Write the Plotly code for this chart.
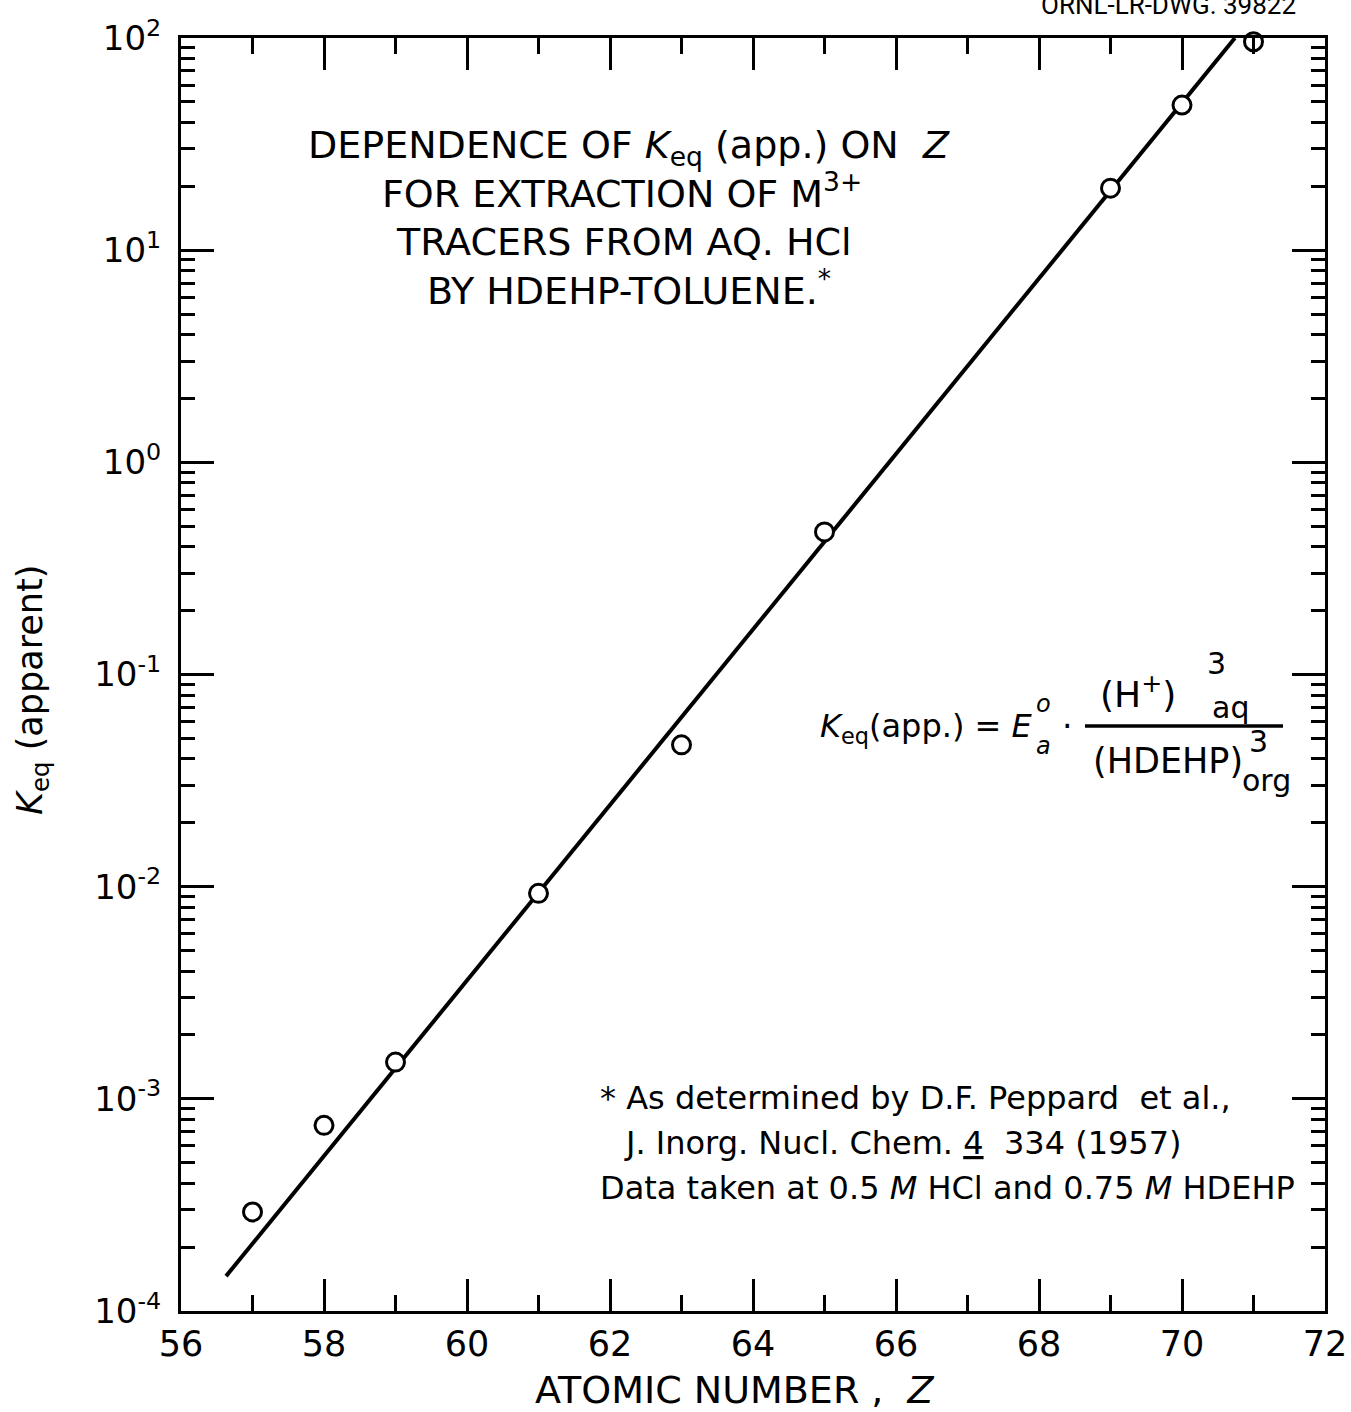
import plotly.graph_objects as go

# ---- data ----
atomic_number = [57, 58, 59, 61, 63, 65, 69, 70, 71]
keq_apparent = [2.93e-4, 7.5e-4, 1.49e-3, 9.3e-3, 0.0466, 0.47, 19.6, 48.3, 96.0]

fit_z = [56.63, 70.74]
fit_keq = [1.46e-4, 100.0]

x_major_ticks = [56, 58, 60, 62, 64, 66, 68, 70, 72]
x_minor_ticks = [57, 59, 61, 63, 65, 67, 69, 71]
y_major_ticks = [1e-4, 1e-3, 1e-2, 1e-1, 1e0, 1e1, 1e2]
y_tick_text = ["10<sup>-4</sup>", "10<sup>-3</sup>", "10<sup>-2</sup>", "10<sup>-1</sup>",
               "10<sup>0</sup>", "10<sup>1</sup>", "10<sup>2</sup>"]
y_minor_ticks = [m * 10.0 ** e for e in range(-4, 2) for m in range(2, 10)]

FONT = "DejaVu Sans"
W, H = 1351, 1412
L, R, T, B = 181, 26, 38, 101
PW, PH = W - L - R, H - T - B


def px(x):
    return (x - L) / PW


def py(y):
    return (H - B - y) / PH


fig = go.Figure()
fig.add_trace(go.Scatter(
    x=fit_z, y=fit_keq, mode="lines",
    line=dict(color="black", width=4), showlegend=False, hoverinfo="skip"))
fig.add_trace(go.Scatter(
    x=atomic_number, y=keq_apparent, mode="markers",
    marker=dict(symbol="circle", size=18, color="white",
                line=dict(color="black", width=3)),
    cliponaxis=False, showlegend=False))

axis_common = dict(showline=True, linecolor="black", linewidth=3, mirror="ticks",
                   ticks="inside", tickcolor="black", tickwidth=2.5,
                   showgrid=False, zeroline=False, automargin=False)

fig.update_xaxes(range=[56, 72], tickmode="array", tickvals=x_major_ticks,
                 ticklen=32, tickfont=dict(family=FONT, size=35, color="black"),
                 minor=dict(tickmode="array", tickvals=x_minor_ticks, ticks="inside",
                            ticklen=16, tickwidth=2.5, tickcolor="black", showgrid=False),
                 **axis_common)
fig.update_yaxes(type="log", range=[-4, 2], tickmode="array", tickvals=y_major_ticks,
                 ticktext=y_tick_text, ticklen=33, ticklabelstandoff=10,
                 tickfont=dict(family=FONT, size=34, color="black"),
                 minor=dict(tickmode="array", tickvals=y_minor_ticks, ticks="inside",
                            ticklen=14, tickwidth=2.5, tickcolor="black", showgrid=False),
                 **axis_common)

ann = []


def add(text, x, y, size=34, xanchor="center", yanchor="middle", angle=0, family=FONT):
    ann.append(dict(text=text, x=px(x), y=py(y), xref="paper", yref="paper",
                    xanchor=xanchor, yanchor=yanchor, showarrow=False, textangle=angle,
                    font=dict(family=family, size=size, color="black")))


# drawing number (cut at top)
add("ORNL-LR-DWG. 39822", 1168, 5, size=26,
    family="Liberation Sans Narrow, Roboto, DejaVu Sans")

# title block
add("DEPENDENCE OF <i>K</i><sub>eq</sub> (app.) ON  <i>Z</i>", 629, 147, size=38)
add("FOR EXTRACTION OF M<sup>3+</sup>", 622, 191, size=38)
add("TRACERS FROM AQ. HCl", 624, 242, size=38)
add("BY HDEHP-TOLUENE.<sup>*</sup>", 629, 288, size=38)

# formula
add("<i>K</i><sub>eq</sub>(app.) = <i>E</i>", 818, 728, size=32, xanchor="left")
add("<i>o</i>", 1043, 704, size=24)
add("<i>a</i>", 1043, 746, size=24)
add("·", 1067, 726, size=33)
add("(H<sup>+</sup>)", 1138, 692, size=36)
add("3", 1216, 664, size=30)
add("aq", 1230, 707, size=30)
add("(HDEHP)", 1168, 761, size=35)
add("3", 1258, 741, size=30)
add("org", 1266, 781, size=30)

# footnote
add("* As determined by D.F. Peppard  et al.,", 598, 1098, size=32, xanchor="left")
add("J. Inorg. Nucl. Chem. <u>4</u>  334 (1957)", 622, 1143, size=32, xanchor="left")
add("Data taken at 0.5 <i>M</i> HCl and 0.75 <i>M</i> HDEHP", 598, 1188, size=32,
    xanchor="left")

# axis titles
add("ATOMIC NUMBER ,  <i>Z</i>", 735, 1390, size=38)
add("<i>K</i><sub>eq</sub> (apparent)", 32, 690, size=35, angle=-90)

fig.update_layout(
    width=W, height=H, autosize=False,
    margin=dict(l=L, r=R, t=T, b=B, autoexpand=False),
    paper_bgcolor="white", plot_bgcolor="white",
    font=dict(family=FONT, color="black"),
    annotations=ann,
    shapes=[dict(type="line", xref="paper", yref="paper",
                 x0=px(1085), x1=px(1283), y0=py(726), y1=py(726),
                 line=dict(color="black", width=3.5))],
)

fig.write_html("out.html",
               config={"displayModeBar": False},
               post_script="document.body.style.margin='0px';"
                           "document.body.style.overflow='hidden';")
